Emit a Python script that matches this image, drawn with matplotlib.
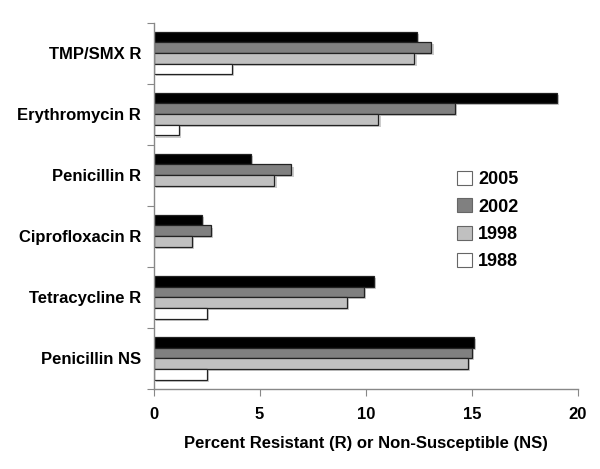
import numpy as np
import matplotlib
matplotlib.use("Agg")
import matplotlib.pyplot as plt
import matplotlib.patheffects as pe
from matplotlib.patches import Patch

categories = ["TMP/SMX R", "Erythromycin R", "Penicillin R",
              "Ciprofloxacin R", "Tetracycline R", "Penicillin NS"]
years = ["2005", "2002", "1998", "1988"]
vals_2005 = [12.4, 19.0, 4.6, 2.3, 10.4, 15.1]
vals_2002 = [13.1, 14.2, 6.5, 2.7, 9.9, 15.0]
vals_1998 = [12.3, 10.6, 5.7, 1.8, 9.1, 14.8]
vals_1988 = [3.7, 1.2, 0.0, 0.0, 2.5, 2.5]
series = [vals_2005, vals_2002, vals_1998, vals_1988]
colors = ["black", "#808080", "#c0c0c0", "white"]
legend_colors = ["white", "#808080", "#c0c0c0", "white"]

plt.rcParams['font.family'] = ['Liberation Sans', 'DejaVu Sans']
plt.rcParams['font.weight'] = 'bold'

fig = plt.figure(figsize=(6, 4.69), dpi=100)
ax = fig.add_axes([0.256, 0.171, 0.707, 0.781])

y = np.arange(len(categories))
h = 0.175
shadow = [pe.SimplePatchShadow(offset=(1.5, -1.5), shadow_rgbFace='#aaaaaa', alpha=0.6), pe.Normal()]
for k, (vals, col) in enumerate(zip(series, colors)):
    off = (k - 1.5) * h
    v = np.array(vals)
    mask = v > 0
    bars = ax.barh(y[mask] + off, v[mask], height=h, color=col,
                   edgecolor='#222222', linewidth=0.9)
    for b in bars:
        b.set_path_effects(shadow)

ax.set_xlim(0, 20)
ax.set_ylim(len(categories) - 0.5, -0.5)
ax.set_xticks([0, 5, 10, 15, 20])
ax.set_yticks(np.arange(-0.5, len(categories), 1.0))
ax.set_yticklabels([])
ax.set_yticks(y, minor=True)
ax.set_yticklabels(categories, minor=True, fontsize=12, fontweight='bold')
ax.tick_params(axis='y', which='minor', length=0, pad=9)
ax.tick_params(axis='y', which='major', length=5, color='#888888', direction='out')
ax.tick_params(axis='x', length=5, color='#888888', labelsize=12, pad=8)
for lab in ax.get_xticklabels():
    lab.set_fontweight('bold')

for s in ['top', 'right']:
    ax.spines[s].set_visible(False)
for s in ['left', 'bottom']:
    ax.spines[s].set_color('#888888')
    ax.spines[s].set_linewidth(1.0)

ax.set_xlabel("Percent Resistant (R) or Non-Susceptible (NS)", fontsize=12,
              fontweight='bold', labelpad=10)

handles = [Patch(facecolor=c, edgecolor='#666666', linewidth=0.8) for c in legend_colors]
fig.legend(handles, years, loc='upper left', bbox_to_anchor=(0.762, 0.635),
           frameon=False, handlelength=0.8, handleheight=0.8,
           handletextpad=0.35, labelspacing=0.56, borderpad=0, borderaxespad=0,
           prop={'weight': 'bold', 'size': 13})

fig.savefig("out.png", dpi=100)
